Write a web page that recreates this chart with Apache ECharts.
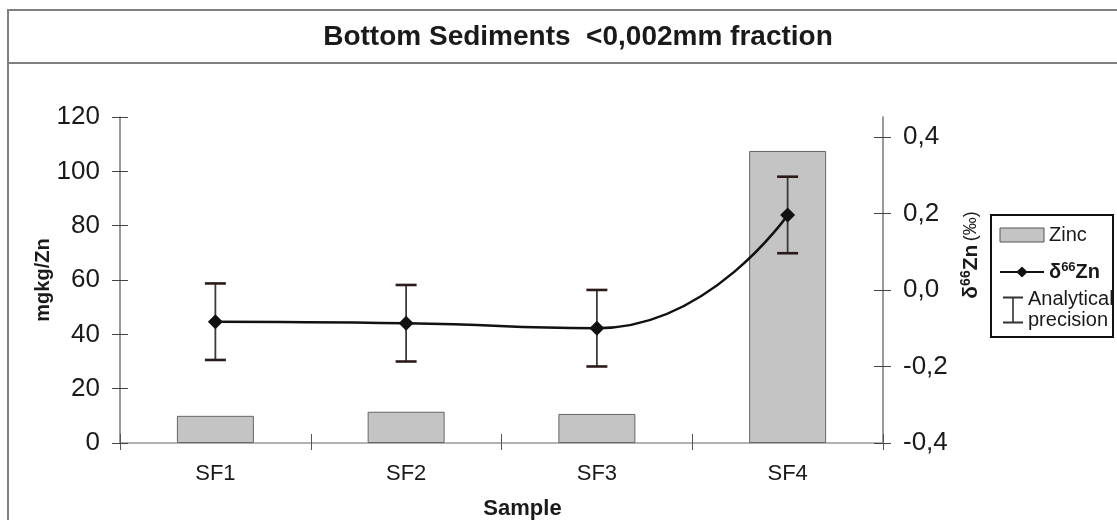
<!DOCTYPE html>
<html>
<head>
<meta charset="utf-8">
<script src="https://cdn.jsdelivr.net/npm/echarts@6/dist/echarts.min.js"></script>
<style>
  html, body { margin: 0; padding: 0; background: #fff; }
  #chart { width: 1117px; height: 520px; }
</style>
</head>
<body>
<div id="chart"></div>
<script>
// data
const categories = ['SF1', 'SF2', 'SF3', 'SF4']
const zinc = [10, 11.5, 10.7, 107.5]        // mg/kg, left axis
const delta66 = [-0.083, -0.087, -0.1, 0.196] // permil, right axis
const precision = [0.1, 0.1, 0.1, 0.1]       // +/- analytical precision
const rightTicks = [-0.4, -0.2, 0, 0.2, 0.4]

const font = "'Liberation Sans', Arial, sans-serif"
const comma = v => v.toFixed(1).replace('.', ',')

const errData = categories.map((c, i) => [i, delta66[i] - precision[i], delta66[i] + precision[i]])

// rich text for the delta label (superscript 66)
const deltaRich = (size, lh) => ({
  b: { fontFamily: font, fontSize: size, fontWeight: 'bold', color: '#1a1a1a', lineHeight: lh },
  sup: { fontFamily: font, fontSize: Math.round(size * 0.65), fontWeight: 'bold', color: '#1a1a1a', verticalAlign: 'top', lineHeight: lh },
  n: { fontFamily: font, fontSize: size - 3, color: '#1a1a1a', lineHeight: lh }
})

const chart = echarts.init(document.getElementById('chart'))

chart.setOption({
  animation: false,
  textStyle: { fontFamily: font },
  graphic: [
    // outer frame + title box
    { type: 'rect', shape: { x: 8, y: 10, width: 1130, height: 530 }, style: { fill: 'none', stroke: '#808080', lineWidth: 2 }, silent: true },
    { type: 'line', shape: { x1: 8, y1: 63, x2: 1117, y2: 63 }, style: { stroke: '#808080', lineWidth: 2 }, silent: true },
    {
      type: 'text', x: 578, y: 37,
      style: { text: 'Bottom Sediments  <0,002mm fraction', fill: '#1a1a1a', font: 'bold 28px ' + font, textAlign: 'center', textVerticalAlign: 'middle' },
      silent: true
    },
    // legend frame
    { type: 'rect', shape: { x: 991, y: 215, width: 122, height: 122 }, style: { fill: 'none', stroke: '#111', lineWidth: 2 }, silent: true, z: 10 }
  ],
  legend: [
    {
      orient: 'vertical',
      left: 999,
      top: 224,
      padding: 0,
      itemGap: 15,
      itemWidth: 44,
      itemHeight: 14,
      selectedMode: false,
      textStyle: { fontFamily: font, fontSize: 20, color: '#1a1a1a', lineHeight: 22, rich: deltaRich(20, 22) },
      data: [
        { name: 'Zinc', icon: 'rect', itemStyle: { color: '#c4c4c4', borderColor: '#555', borderWidth: 1 } },
        { name: 'δ66Zn' }
      ],
      formatter: name => name === 'δ66Zn' ? '{b|δ}{sup|66}{b|Zn}' : name
    },
    {
      orient: 'vertical',
      left: 999,
      top: 289,
      padding: 0,
      itemWidth: 24,
      itemHeight: 30,
      selectedMode: false,
      textStyle: { fontFamily: font, fontSize: 20, color: '#1a1a1a', lineHeight: 21 },
      data: [
        {
          name: 'Analytical\nprecision',
          // tiny corner marks keep the icon box 24x30 so the I-beam is not stretched
          icon: 'path://M0,0 L0.01,0 L0,0.01 Z M24,30 L23.99,30 L24,29.99 Z M4,1.5 H24 V3.5 H14.8 V26.5 H24 V28.5 H4 V26.5 H13.2 V3.5 H4 Z',
          itemStyle: { color: '#333' }
        }
      ]
    }
  ],
  grid: { left: 120, right: 234, top: 117, bottom: 77, outerBoundsMode: 'none', containLabel: false },
  xAxis: [
    {
      type: 'category',
      data: categories,
      name: 'Sample',
      nameLocation: 'middle',
      nameGap: 55,
      nameTextStyle: { fontFamily: font, fontSize: 22, fontWeight: 'bold', color: '#1a1a1a', padding: [0, 0, 0, 42] },
      axisLine: { onZero: false, lineStyle: { color: '#999', width: 1.5 } },
      axisTick: { show: true, length: 7, lineStyle: { color: '#555' } },
      axisLabel: { fontSize: 22, color: '#1a1a1a', margin: 20 }
    },
    {
      // inside half of the crossing ticks
      type: 'category',
      data: categories,
      position: 'bottom',
      axisLine: { show: false, onZero: false },
      axisTick: { show: true, inside: true, length: 9, lineStyle: { color: '#555' } },
      axisLabel: { show: false }
    }
  ],
  yAxis: [
    {
      type: 'value',
      min: 0,
      max: 120,
      interval: 20,
      position: 'left',
      name: 'mgkg/Zn',
      nameLocation: 'middle',
      nameRotate: 90,
      nameGap: 67,
      nameMoveOverlap: false,
      nameTextStyle: { fontFamily: font, fontSize: 20, fontWeight: 'bold', color: '#1a1a1a' },
      axisLine: { show: true, lineStyle: { color: '#777', width: 1.5 } },
      axisTick: { show: true, length: 8, lineStyle: { color: '#444' } },
      axisLabel: { fontSize: 26, color: '#1a1a1a', margin: 20 },
      splitLine: { show: false }
    },
    {
      type: 'value',
      min: -0.4,
      max: 0.452,
      position: 'right',
      name: '{b|δ}{sup|66}{b|Zn} {n|(‰)}',
      nameLocation: 'middle',
      nameRotate: 90,
      nameGap: 74,
      nameTextStyle: { padding: [0, 0, 0, 50], rich: deltaRich(21, 25) },
      axisLine: { show: true, lineStyle: { color: '#777', width: 1.5 } },
      axisTick: { show: true, length: 8, customValues: rightTicks, lineStyle: { color: '#444' } },
      axisLabel: { fontSize: 26, color: '#1a1a1a', margin: 20, customValues: rightTicks, formatter: comma },
      splitLine: { show: false }
    },
    {
      type: 'value', min: 0, max: 120, interval: 20, position: 'left',
      axisLine: { show: false },
      axisTick: { show: true, inside: true, length: 8, lineStyle: { color: '#444' } },
      axisLabel: { show: false },
      splitLine: { show: false }
    },
    {
      type: 'value', min: -0.4, max: 0.452, position: 'right',
      axisLine: { show: false },
      axisTick: { show: true, inside: true, length: 9, customValues: rightTicks, lineStyle: { color: '#444' } },
      axisLabel: { show: false },
      splitLine: { show: false }
    }
  ],
  series: [
    {
      name: 'Zinc',
      type: 'bar',
      data: zinc,
      barWidth: 77,
      itemStyle: { color: '#c4c4c4', borderColor: '#666', borderWidth: 1 },
      z: 1
    },
    {
      name: 'Analytical\nprecision',
      type: 'custom',
      yAxisIndex: 1,
      data: errData,
      itemStyle: { color: '#333' },
      z: 2,
      renderItem(params, api) {
        const lo = api.coord([api.value(0), api.value(1)])
        const hi = api.coord([api.value(0), api.value(2)])
        const half = 10.5
        return {
          type: 'group',
          children: [
            { type: 'line', shape: { x1: lo[0], y1: lo[1], x2: hi[0], y2: hi[1] }, style: { stroke: '#3a3a3a', lineWidth: 1.8 } },
            { type: 'line', shape: { x1: lo[0] - half, y1: lo[1], x2: lo[0] + half, y2: lo[1] }, style: { stroke: '#2a1a1a', lineWidth: 2.6 } },
            { type: 'line', shape: { x1: hi[0] - half, y1: hi[1], x2: hi[0] + half, y2: hi[1] }, style: { stroke: '#2a1a1a', lineWidth: 2.6 } }
          ]
        }
      }
    },
    {
      name: 'δ66Zn',
      type: 'line',
      yAxisIndex: 1,
      data: delta66,
      smooth: 0.55,
      symbol: 'diamond',
      symbolSize: 15,
      lineStyle: { color: '#111', width: 2.5 },
      itemStyle: { color: '#111' },
      z: 3
    }
  ]
})
</script>
</body>
</html>
